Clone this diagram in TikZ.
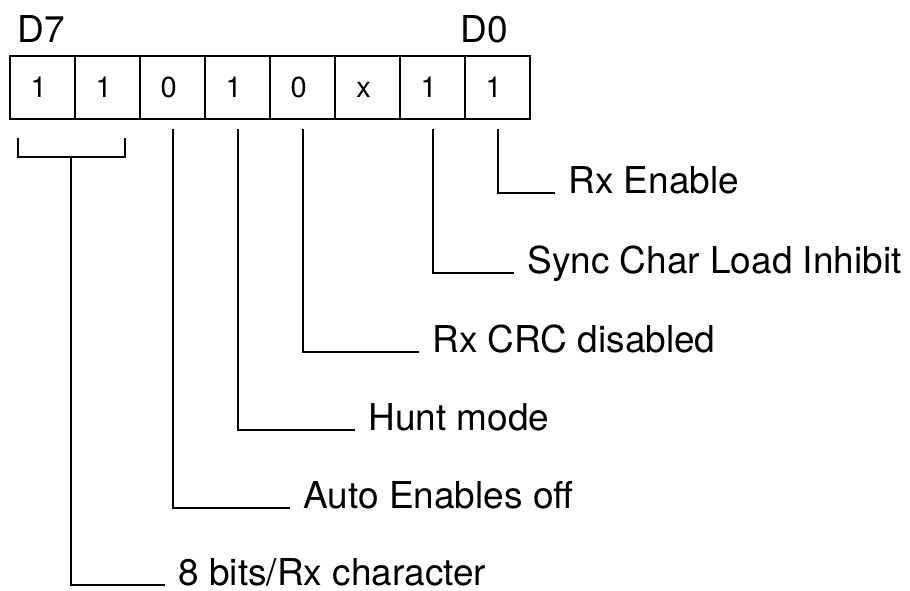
\documentclass[tikz,border=0pt]{standalone}
\usepackage{fontspec}
\setmainfont{TeX Gyre Heros}
\usetikzlibrary{matrix}

\tikzset{
  fieldlabel/.style={font=\fontsize{18.5}{22}\selectfont, inner sep=0pt, anchor=base west},
  lead/.style={line width=0.9pt},
}

\begin{document}
\begin{tikzpicture}[x=0.5pt, y=-0.5pt]
    \useasboundingbox (0,0) rectangle (910,590);
    % register cells, D7 on the left
    \matrix (reg) [matrix of nodes,
            anchor=north west, inner sep=0pt, outer sep=0pt,
            nodes={draw, line width=1.1pt, minimum width=32.5pt, minimum height=31.5pt, inner sep=0pt, outer sep=0pt, align=center, font=\fontsize{14.5}{16}\selectfont, execute at begin node={\vphantom{0}}},
            column sep=-1.1pt] at (9,55) {
      1 & 1 & 0 & 1 & 0 & x & 1 & 1 \\
    };
    \node[fieldlabel] (d7) at (17,42) {D7};
    \node[fieldlabel, anchor=base east] (d0) at (508,42) {D0};

    % field descriptions
    \node[fieldlabel] (rxen) at (568,193) {Rx Enable};
    \node[fieldlabel] (sync) at (527,273) {Sync Char Load Inhibit};
    \node[fieldlabel] (crc) at (432,352) {Rx CRC disabled};
    \node[fieldlabel] (hunt) at (368,430) {Hunt mode};
    \node[fieldlabel] (auto) at (303,508) {Auto Enables off};
    \node[fieldlabel] (bits) at (178,585) {8 bits/Rx character};

    % leads
    \draw[lead] ([yshift=-5pt]reg-1-8.south) |- ([xshift=-6.5pt]rxen.base west);
    \draw[lead] ([yshift=-5pt]reg-1-7.south) |- ([xshift=-6.5pt]sync.base west);
    \draw[lead] ([yshift=-5pt]reg-1-5.south) |- ([xshift=-6.5pt]crc.base west);
    \draw[lead] ([yshift=-5pt]reg-1-4.south) |- ([xshift=-6.5pt]hunt.base west);
    \draw[lead] ([yshift=-5pt]reg-1-3.south) |- ([xshift=-6.5pt]auto.base west);

    % bracket over D7 and D6
    \draw[lead] (18,138) |- (125,157) -- (125,138);
    \coordinate (brk) at (71,157);
    \draw[lead] (brk) |- ([xshift=-6.5pt]bits.base west);
\end{tikzpicture}
\end{document}
